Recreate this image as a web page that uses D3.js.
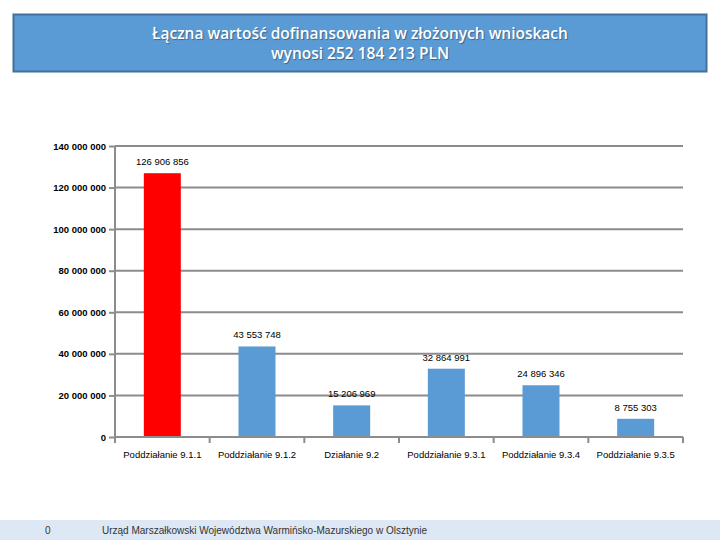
<!DOCTYPE html>
<html><head><meta charset="utf-8">
<script src="https://cdn.jsdelivr.net/npm/d3@7"></script>
<style>body{margin:0;background:#fff;} svg{display:block;}</style>
</head><body>
<script>
const categories = ["Poddziałanie 9.1.1","Poddziałanie 9.1.2","Działanie 9.2","Poddziałanie 9.3.1","Poddziałanie 9.3.4","Poddziałanie 9.3.5"];
const values = [126906856, 43553748, 15206969, 32864991, 24896346, 8755303];
const barColors = ["#ff0000","#5b9bd5","#5b9bd5","#5b9bd5","#5b9bd5","#5b9bd5"];
const yTicks = [0,20000000,40000000,60000000,80000000,100000000,120000000,140000000];
const titleLines = ["Łączna wartość dofinansowania w złożonych wnioskach","wynosi 252 184 213 PLN"];
const footerNum = "0";
const footerText = "Urząd Marszałkowski Województwa Warmińsko-Mazurskiego w Olsztynie";

const fmt = v => String(v).replace(/\B(?=(\d{3})+(?!\d))/g, " ");

const svg = d3.select("body").append("svg").attr("width",720).attr("height",540);

// title box
svg.append("rect").attr("x",13.5).attr("y",14.5).attr("width",693).attr("height",57)
  .attr("fill","#5b9bd5").attr("stroke","#41719c").attr("stroke-width",2);
svg.selectAll("text.title").data(titleLines).join("text").attr("class","title")
  .attr("x",360).attr("y",(d,i)=>39+i*20).attr("text-anchor","middle")
  .attr("font-family","'Open Sans', 'Liberation Sans', sans-serif").attr("font-size",15.5)
  .attr("font-weight","600").attr("fill","#fff")
  .style("text-shadow","1px 1px 1px rgba(0,0,0,0.35)").text(d=>d);

const xb = d3.scaleBand().domain(categories).range([115,683]);
const y = d3.scaleLinear().domain([0,140000000]).range([437,146]);

// gridlines
svg.append("g").selectAll("line").data(yTicks.slice(1)).join("line")
  .attr("x1",115).attr("x2",683).attr("y1",d=>y(d)).attr("y2",d=>y(d))
  .attr("stroke","#8c8c8c").attr("stroke-width",2);

// y axis
const yAxis = svg.append("g").attr("transform","translate(115,0)")
  .call(d3.axisLeft(y).tickValues(yTicks).tickFormat(fmt).tickSize(6).tickPadding(3));
yAxis.select(".domain").attr("stroke","#8c8c8c").attr("stroke-width",2).attr("d","M0,146V437");
yAxis.selectAll(".tick line").attr("stroke","#8c8c8c").attr("stroke-width",2);
yAxis.selectAll("text").attr("font-family","'Liberation Sans',sans-serif")
  .attr("font-size",9.5).attr("font-weight","bold").attr("fill","#000");

// bars
svg.append("g").selectAll("rect").data(values).join("rect")
  .attr("x",(d,i)=>xb(categories[i])+xb.bandwidth()/2-18.5).attr("width",37)
  .attr("y",d=>y(d)).attr("height",d=>y(0)-y(d)).attr("fill",(d,i)=>barColors[i]);

// x axis
const xAxis = svg.append("g").attr("transform","translate(0,437)")
  .call(d3.axisBottom(xb).tickSize(0).tickPadding(14));
xAxis.select(".domain").attr("stroke","#8c8c8c").attr("stroke-width",2).attr("d","M115,0H683");
xAxis.selectAll("text").attr("font-family","'Liberation Sans',sans-serif")
  .attr("font-size",9.5).attr("fill","#000");
svg.append("g").selectAll("line").data(d3.range(categories.length+1)).join("line")
  .attr("x1",i=>115+i*xb.step()).attr("x2",i=>115+i*xb.step()).attr("y1",437).attr("y2",443)
  .attr("stroke","#8c8c8c").attr("stroke-width",2);

// data labels
svg.append("g").selectAll("text").data(values).join("text")
  .attr("x",(d,i)=>xb(categories[i])+xb.bandwidth()/2).attr("y",d=>y(d)-8)
  .attr("text-anchor","middle").attr("font-family","'Liberation Sans',sans-serif")
  .attr("font-size",9.5).attr("fill","#000").text(fmt);

// footer
svg.append("rect").attr("x",0).attr("y",520).attr("width",720).attr("height",20).attr("fill","#dde8f4");
svg.append("text").attr("x",45).attr("y",534).attr("font-family","'Liberation Sans',sans-serif")
  .attr("font-size",10).attr("fill","#333").text(footerNum);
svg.append("text").attr("x",102).attr("y",534).attr("font-family","'Liberation Sans',sans-serif")
  .attr("font-size",10).attr("fill","#333").text(footerText);
</script>
</body></html>
